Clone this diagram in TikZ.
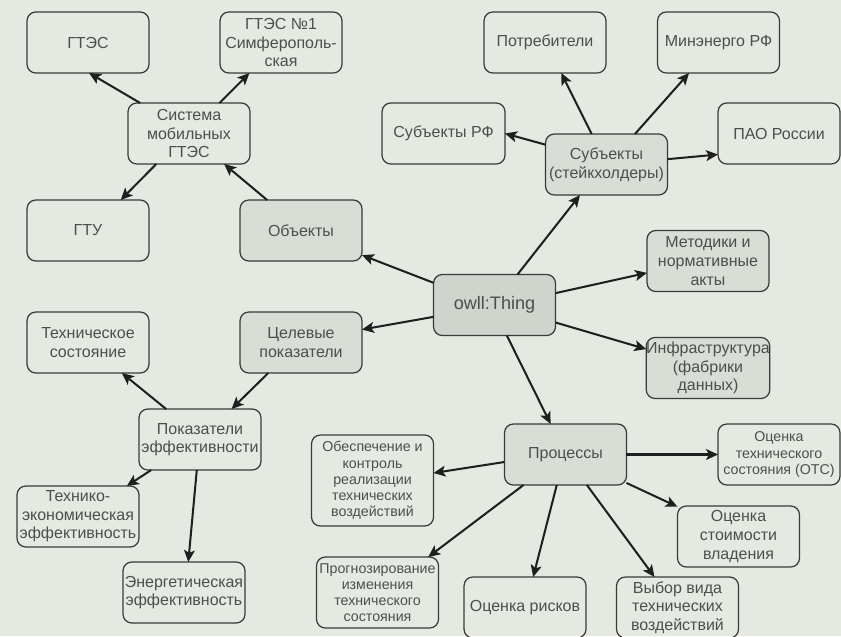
\documentclass[tikz,border=0pt]{standalone}
\usepackage{fontspec}
\setmainfont{Liberation Sans}
\usetikzlibrary{arrows.meta}
\definecolor{bgcol}{RGB}{228,233,225}
\definecolor{fillcol}{RGB}{216,221,214}
\definecolor{rootcol}{RGB}{207,212,205}
\definecolor{txtcol}{RGB}{78,78,78}
\definecolor{edgecol}{RGB}{58,58,58}

\begin{document}
\begin{tikzpicture}[x=0.02cm, y=-0.02cm,
		box/.style={draw=edgecol, line width=0.7pt, rounded corners=5pt, minimum width=2.44cm, minimum height=1.22cm, inner sep=0pt, outer sep=0pt, align=center, text=txtcol, font=\fontsize{9.1}{10.6}\selectfont},
		filled/.style={box, fill=fillcol},
		smallbox/.style={box, font=\fontsize{8.1}{9.2}\selectfont},
		arr/.style={-{Stealth[length=6.8pt, width=6.2pt, inset=1.6pt]}, line width=1.15pt, draw=black!88}]
			%%%%% START %%%%%
			
			\path[use as bounding box, fill=bgcol] (0, 0) rectangle (841, 636);
			
			\node[box, fill=rootcol, font=\fontsize{10.3}{12}\selectfont] (owl) at (494.5, 305) {owll:Thing};
			
			\node[filled] (obekty) at (301, 230.5) {Объекты};
			\node[box] (sistema) at (189, 133.5) {Система\\мобильных\\ГТЭС};
			\node[box] (gtes) at (88, 42.5) {ГТЭС};
			\node[box] (gtes1) at (281, 42.5) {ГТЭС №1\\Симферополь-\\ская};
			\node[box] (gtu) at (88, 230.5) {ГТУ};
			
			\node[filled] (subekty) at (606.5, 164.5) {Субъекты\\(стейкхолдеры)};
			\node[box, minimum width=2.46cm] (subrf) at (443.5, 133.5) {Субъекты РФ};
			\node[box] (potreb) at (545, 42.5) {Потребители};
			\node[box] (minenergo) at (718.5, 42.5) {Минэнерго РФ};
			\node[box] (pao) at (779, 133.5) {ПАО России};
			
			\node[filled] (metodiki) at (708, 261) {Методики и\\нормативные\\акты};
			\node[filled] (infra) at (708, 368) {Инфраструктура\\(фабрики\\данных)};
			
			\node[filled] (celevye) at (301, 342.5) {Целевые\\показатели};
			\node[box] (pokaz) at (200, 439.5) {Показатели\\эффективности};
			\node[box] (tehsost) at (88, 342.5) {Техническое\\состояние};
			\node[box] (tehekon) at (78, 516.5) {Технико-\\экономическая\\эффективность};
			\node[box] (energ) at (184, 592.5) {Энергетическая\\эффективность};
			
			\node[filled] (processy) at (565.5, 454.5) {Процессы};
			\node[smallbox] (ots) at (779, 454.5) {Оценка\\технического\\состояния (ОТС)};
			\node[box] (stoim) at (738.5, 536.5) {Оценка\\стоимости\\владения};
			\node[smallbox, minimum height=1.82cm] (obesp) at (372.5, 480.5) {Обеспечение и\\контроль\\реализации\\технических\\воздействий};
			\node[smallbox, minimum height=1.42cm] (prognoz) at (377.5, 592.5) {Прогнозирование\\изменения\\технического\\состояния};
			\node[box] (riski) at (525, 607.5) {Оценка рисков};
			\node[box] (vybor) at (677.5, 607.5) {Выбор вида\\технических\\воздействий};
			
			%%%%% ARROWS %%%%%
			
			\draw[arr] (sistema.148) -- (gtes.272);
			\draw[arr] (sistema.45.5) -- (gtes1.224);
			\draw[arr] (sistema.223.6) -- (gtu.43.6);
			\draw[arr] (obekty.138.9) -- (sistema.319.6);
			
			\draw[arr] (owl.160.3) -- (obekty.338.4);
			\draw[arr] (owl.191) -- (celevye.12.3);
			\draw[arr] (owl.53.7) -- (subekty.229);
			\draw[arr] (owl.11.7) -- (metodiki.191.1);
			\draw[arr] (owl.344) -- (infra.163.6);
			\draw[arr] (owl.292.9) -- (processy.116.2);
			
			\draw[arr] (subekty.162.4) -- (subrf.east);
			\draw[arr] (subekty.116.2) -- (potreb.298.4);
			\draw[arr] (subekty.47.9) -- (minenergo.226.9);
			\draw[arr] (subekty.5.1) -- (pao.199.4);
			
			\draw[arr] (celevye.223.7) -- (pokaz.44.5);
			\draw[arr] (pokaz.138.8) -- (tehsost.318);
			\draw[arr] (pokaz.212.2) -- (tehekon.32.7);
			\draw[arr] (pokaz.264.4) -- (energ.82.5);
			
			\draw[arr] (processy.187.9) -- (obesp.7.7);
			\draw[arr] (processy.216.5) -- (prognoz.35.9);
			\draw[arr] (processy.254.9) -- (riski.75.3);
			\draw[arr] (processy.305.5) -- (vybor.127.9);
			\draw[arr] (processy.335) -- (stoim.154.4);
			\draw[arr] (processy.east) -- (ots.west);
			
			%%%%% END %%%%%
		\end{tikzpicture}
\end{document}
